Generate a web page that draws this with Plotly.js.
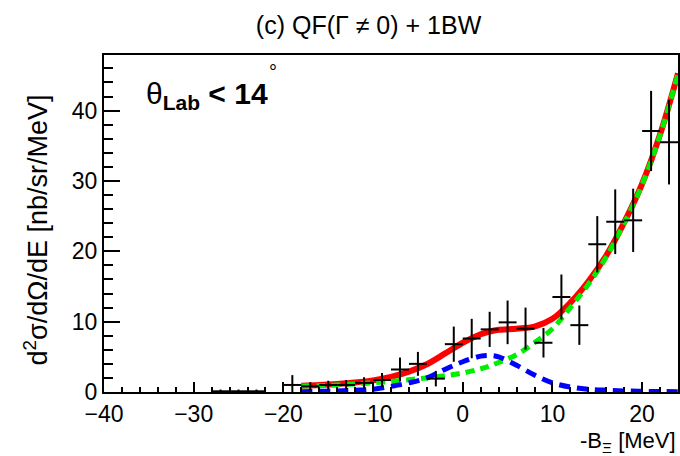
<!DOCTYPE html>
<html>
<head>
<meta charset="utf-8">
<script src="https://cdn.plot.ly/plotly-3.0.1.min.js"></script>
<style>html,body{margin:0;padding:0;background:#fff;}#chart{width:680px;height:456px;}</style>
</head>
<body>
<div id="chart"></div>
<script>
// Data points (bin centres, MeV), cross sections and errors
const xPts = [-27, -25, -23, -19, -17, -15, -13, -11, -9, -7, -5, -3, -1, 1, 3, 5, 7, 9, 11, 13, 15, 17, 19, 21, 23];
const yPts = [0.1, 0.1, 0.1, 1.0, 0.8, 1.0, 1.0, 1.3, 1.7, 3.2, 4.0, 1.9, 6.8, 7.6, 8.9, 9.9, 9.0, 7.0, 13.5, 9.5, 21.0, 24.2, 24.4, 37.1, 35.5];
const yErr = [0.25, 0.25, 0.25, 1.4, 0.6, 0.6, 0.7, 0.8, 1.0, 1.7, 1.7, 1.1, 2.5, 2.8, 2.5, 3.1, 3.0, 2.1, 3.2, 2.8, 4.0, 4.6, 4.5, 5.7, 6.0];
const xErr = [1, 1, 1, 1, 1, 1, 1, 1, 1, 1, 1, 1, 1, 1, 1, 1, 1, 1, 1, 1, 1, 1, 1, 1, 1];

// Fit curves
const xCurve = [-18, -16, -14, -12, -10, -8, -6, -4, -2, 0, 2, 3, 4, 6, 8, 10, 12, 14, 16, 18, 20, 22, 24];
const yTotal = [0.9, 1.0, 1.15, 1.35, 1.65, 2.15, 2.9, 3.95, 5.45, 7.0, 8.2, 8.6, 8.85, 9.0, 9.3, 10.4, 12.7, 15.7, 19.4, 24.1, 29.6, 36.6, 45.3];
const yQF    = [0.85, 0.9, 1.0, 1.15, 1.3, 1.5, 1.75, 2.0, 2.3, 2.7, 3.3, 3.7, 4.2, 5.3, 7.0, 9.0, 12.0, 15.3, 19.2, 24.0, 29.5, 36.5, 45.2];
const yBW    = [0.05, 0.1, 0.15, 0.25, 0.4, 0.8, 1.3, 2.0, 3.2, 4.3, 5.1, 5.2, 5.0, 3.8, 2.4, 1.3, 0.7, 0.4, 0.25, 0.15, 0.1, 0.07, 0.05];

const titleText = "(c) QF(Γ ≠ 0) + 1BW";
const xTitle = "-B<sub>Ξ</sub> [MeV]";
const yTitle = "d<sup>2</sup>σ/dΩ/dE [nb/sr/MeV]";
const labelText = "θ<sub><b>Lab</b></sub><b> &lt; 14</b>";
const degText = "°";
const xTickVals = [-40, -30, -20, -10, 0, 10, 20];
const xTickText = ['−40', '−30', '−20', '−10', '0', '10', '20'];
const yTickVals = [0, 10, 20, 30, 40];
const yTickText = ['0', '10', '20', '30', '40'];

const FONT = "'Liberation Sans', Arial, sans-serif";

const traces = [
  {x: xCurve, y: yTotal, mode: 'lines', line: {color: '#ff0000', width: 6, shape: 'spline'}, hoverinfo: 'skip'},
  {x: xCurve, y: yQF, mode: 'lines', line: {color: '#00ee00', width: 5, dash: '9px,6px', shape: 'spline'}, hoverinfo: 'skip'},
  {x: xCurve, y: yBW, mode: 'lines', line: {color: '#0000ff', width: 5, dash: '11px,7px', shape: 'spline'}, hoverinfo: 'skip'},
  {x: xPts, y: yPts, mode: 'markers', marker: {size: 1, color: '#000'},
   error_y: {type: 'data', array: yErr, color: '#000', thickness: 2, width: 0},
   error_x: {type: 'data', array: xErr, color: '#000', thickness: 2, width: 0}}
];

const layout = {
  width: 680, height: 456,
  margin: {l: 104, r: 2, t: 55, b: 64},
  paper_bgcolor: '#fff', plot_bgcolor: '#fff',
  showlegend: false,
  font: {family: FONT, color: '#000', size: 22},
  title: {text: titleText, x: 0.542, xanchor: 'center', y: 0.945, yanchor: 'middle', font: {family: FONT, size: 25, color: '#000'}},
  xaxis: {
    range: [-40, 24], showgrid: false, zeroline: false,
    showline: true, linecolor: '#000', linewidth: 2, mirror: true,
    ticks: 'inside', ticklen: 10, tickwidth: 2, tickcolor: '#000',
    tickvals: xTickVals, ticktext: xTickText,
    tickfont: {family: FONT, size: 23},
    minor: {dtick: 2, tick0: 0, ticks: 'inside', ticklen: 5, tickwidth: 2, tickcolor: '#000'}
  },
  yaxis: {
    range: [0, 47.9], showgrid: false, zeroline: false,
    showline: true, linecolor: '#000', linewidth: 2, mirror: true,
    ticks: 'inside', ticklen: 16, tickwidth: 2, tickcolor: '#000',
    tickvals: yTickVals, ticktext: yTickText,
    tickfont: {family: FONT, size: 23},
    minor: {dtick: 2, tick0: 0, ticks: 'inside', ticklen: 9, tickwidth: 2, tickcolor: '#000'}
  },
  annotations: [
    {text: xTitle, xref: 'paper', yref: 'paper', x: 1.0, y: -0.148, xanchor: 'right', yanchor: 'middle', showarrow: false, font: {family: FONT, size: 22}},
    {text: yTitle, xref: 'paper', yref: 'paper', x: -0.118, y: 0.48, xanchor: 'center', yanchor: 'middle', textangle: -90, showarrow: false, font: {family: FONT, size: 27}},
    {text: labelText, xref: 'paper', yref: 'paper', x: 0.07, y: 0.88, xanchor: 'left', yanchor: 'middle', showarrow: false, font: {family: FONT, size: 30}},
    {text: degText, xref: 'paper', yref: 'paper', x: 0.294, y: 0.95, xanchor: 'center', yanchor: 'middle', showarrow: false, font: {family: FONT, size: 20}}
  ]
};

Plotly.newPlot('chart', traces, layout, {displayModeBar: false, staticPlot: true});
</script>
</body>
</html>
